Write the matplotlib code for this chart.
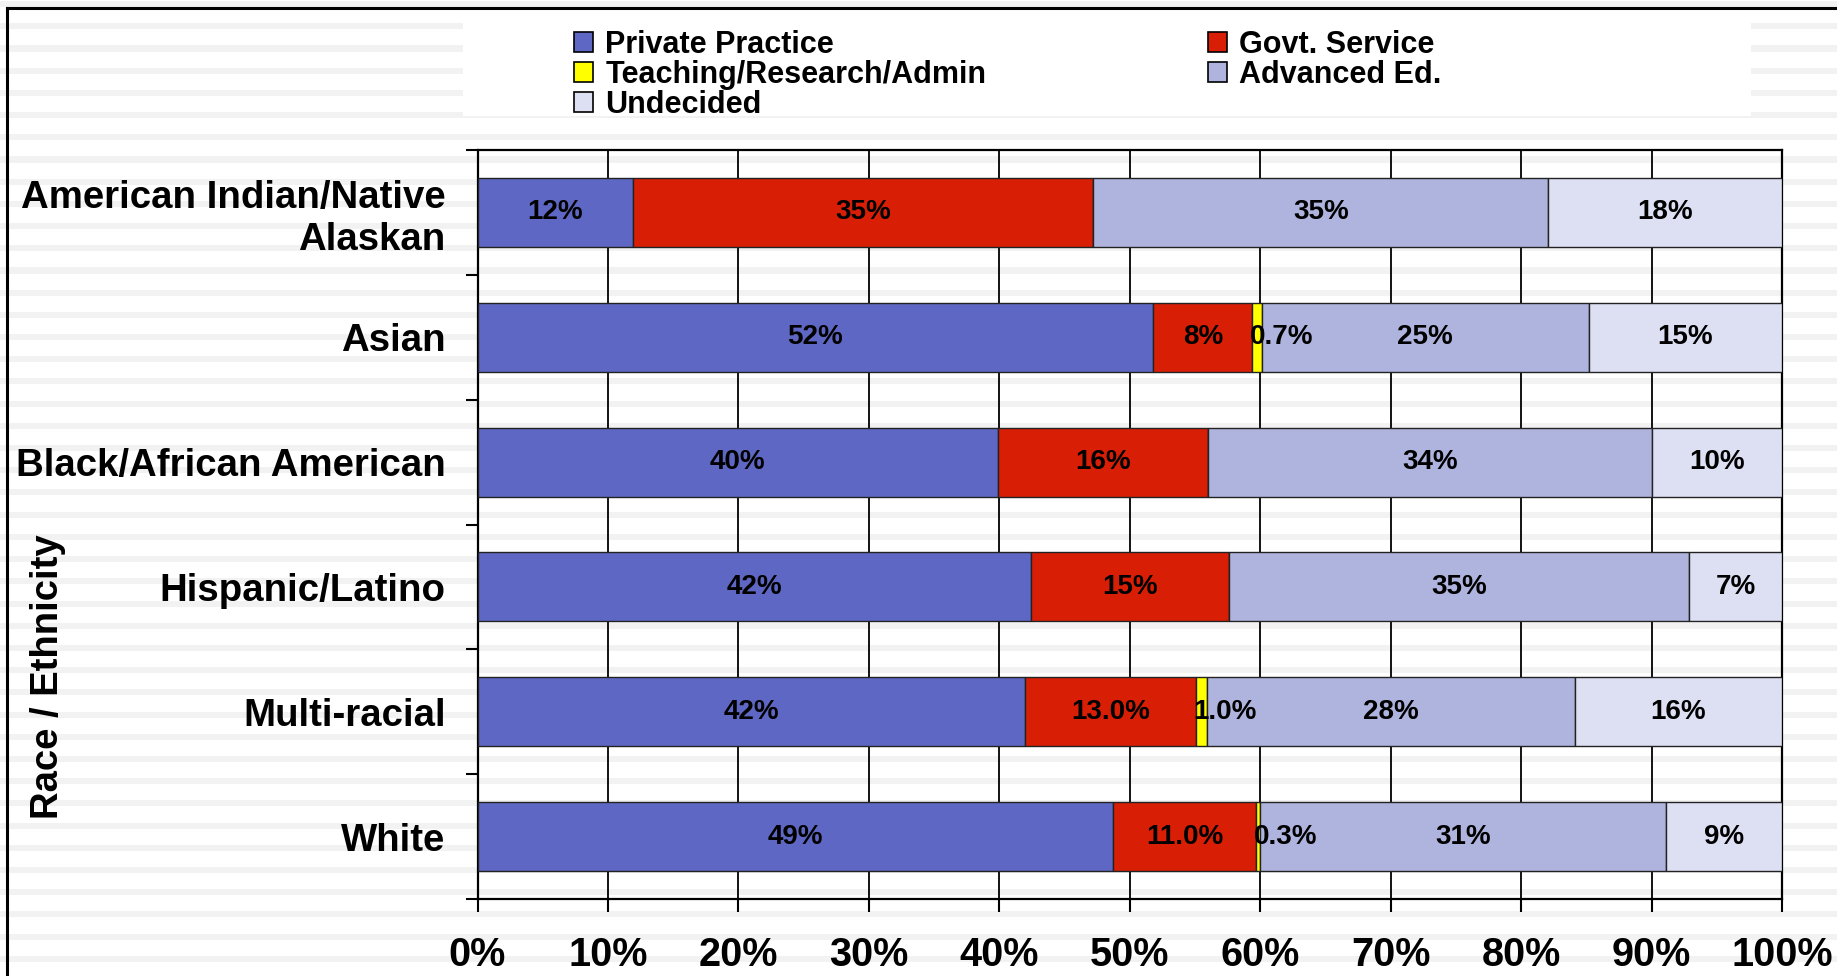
import matplotlib
matplotlib.use('Agg')
import matplotlib.pyplot as plt
from matplotlib.patches import Rectangle, Patch
from matplotlib.lines import Line2D
import numpy as np

plt.rcParams['font.family'] = ['Liberation Sans', 'DejaVu Sans']
plt.rcParams['font.weight'] = 'bold'

# data (percent of each group)
groups = ['American Indian/Native\nAlaskan', 'Asian', 'Black/African American',
          'Hispanic/Latino', 'Multi-racial', 'White']
private = [11.9, 51.8, 39.9, 42.4, 42.0, 48.7]
govt = [35.3, 7.6, 16.1, 15.2, 13.1, 11.0]
teach = [0.0, 0.7, 0.0, 0.0, 0.8, 0.3]
adv = [34.9, 25.1, 34.0, 35.3, 28.2, 31.1]
undec = [17.9, 14.8, 10.0, 7.1, 15.9, 8.9]

lab_private = ['12%', '52%', '40%', '42%', '42%', '49%']
lab_govt = ['35%', '8%', '16%', '15%', '13.0%', '11.0%']
lab_teach = ['', '0.7%', '', '', '1.0%', '0.3%']
lab_adv = ['35%', '25%', '34%', '35%', '28%', '31%']
lab_undec = ['18%', '15%', '10%', '7%', '16%', '9%']

names = ['Private Practice', 'Govt. Service', 'Teaching/Research/Admin',
         'Advanced Ed.', 'Undecided']
colors = ['#5e68c4', '#d81e05', '#ffff00', '#afb4df', '#dde0f3']
xticks = np.arange(0, 101, 10)

W, H = 1837, 976
fig = plt.figure(figsize=(W / 100, H / 100), dpi=100, facecolor='white')

# striped slide background
for k in range(45):
    yc = 4.1 + 22.2 * k
    fig.add_artist(Rectangle((0, 1 - (yc + 3) / H), 1, 6 / H, transform=fig.transFigure,
                             facecolor='#f2f2f2', edgecolor='none', zorder=-3))
# white box behind legend
fig.add_artist(Rectangle((463 / W, 1 - 116 / H), (1751 - 463) / W, (116 - 10) / H,
                         transform=fig.transFigure, facecolor='white',
                         edgecolor='none', zorder=-2))
# outer frame (left + top)
fig.add_artist(Line2D([6.7 / W, 6.7 / W], [0, 1 - 8 / H], transform=fig.transFigure,
                      color='black', lw=2.2, zorder=1))
fig.add_artist(Line2D([6.7 / W, 1], [1 - 8 / H, 1 - 8 / H], transform=fig.transFigure,
                      color='black', lw=2.2, zorder=1))

ax = fig.add_axes([477.5 / W, 1 - 899 / H, (1782 - 477.5) / W, (899 - 150) / H])
ax.set_facecolor('none')

y = np.arange(len(groups))
series = [private, govt, teach, adv, undec]
labels = [lab_private, lab_govt, lab_teach, lab_adv, lab_undec]
left = np.zeros(len(groups))
for vals, col, labs, nm in zip(series, colors, labels, names):
    vals = np.array(vals)
    ax.barh(y, vals, left=left, height=0.553, color=col, edgecolor='#222222',
            linewidth=1.0, zorder=3, label=nm)
    for i in range(len(groups)):
        if labs[i] == '':
            continue
        if vals[i] < 2:
            ax.text(left[i] - 0.2, y[i], labs[i], ha='left', va='center',
                    fontsize=20, fontweight='bold', zorder=5)
        else:
            ax.text(left[i] + vals[i] / 2, y[i], labs[i], ha='center', va='center',
                    fontsize=20, fontweight='bold', zorder=5)
    left = left + vals

ax.set_xlim(0, 100)
ax.set_ylim(len(groups) - 0.5, -0.5)
ax.set_xticks(xticks)
ax.set_xticklabels(['%d%%' % v for v in xticks], fontsize=28.5, fontweight='bold')
ax.set_yticks(y)
ax.set_yticklabels(groups, fontsize=27.6, fontweight='bold')
ax.set_yticks(np.arange(-0.5, len(groups), 1), minor=True)
ax.tick_params(axis='y', which='major', length=0, pad=23)
ax.tick_params(axis='y', which='minor', length=9, width=1.5, direction='out')
ax.tick_params(axis='x', which='major', length=9.4, width=1.5, direction='out', pad=17)
ax.grid(axis='x', color='black', linewidth=1.3, zorder=1)
ax.set_axisbelow(True)
for s in ax.spines.values():
    s.set_linewidth(1.6)
    s.set_color('black')

fig.text(48 / W, 1 - 677 / H, 'Race / Ethnicity', rotation=90, ha='center', va='center',
         fontsize=27.5, fontweight='bold')

handles = [Patch(facecolor=c, edgecolor='black', linewidth=1.2) for c in colors]
order = [0, 2, 4, 1, 3]
fig.legend([handles[i] for i in order], [names[i] for i in order],
           loc='upper left', bbox_to_anchor=(574 / W, 1 - 30 / H), ncol=2,
           frameon=False, handlelength=0.62, handleheight=0.62,
           handletextpad=0.4, columnspacing=7.25, labelspacing=0.0, borderpad=0,
           borderaxespad=0, prop={'weight': 'bold', 'size': 22})

fig.savefig('out.png', dpi=100, facecolor='white')
